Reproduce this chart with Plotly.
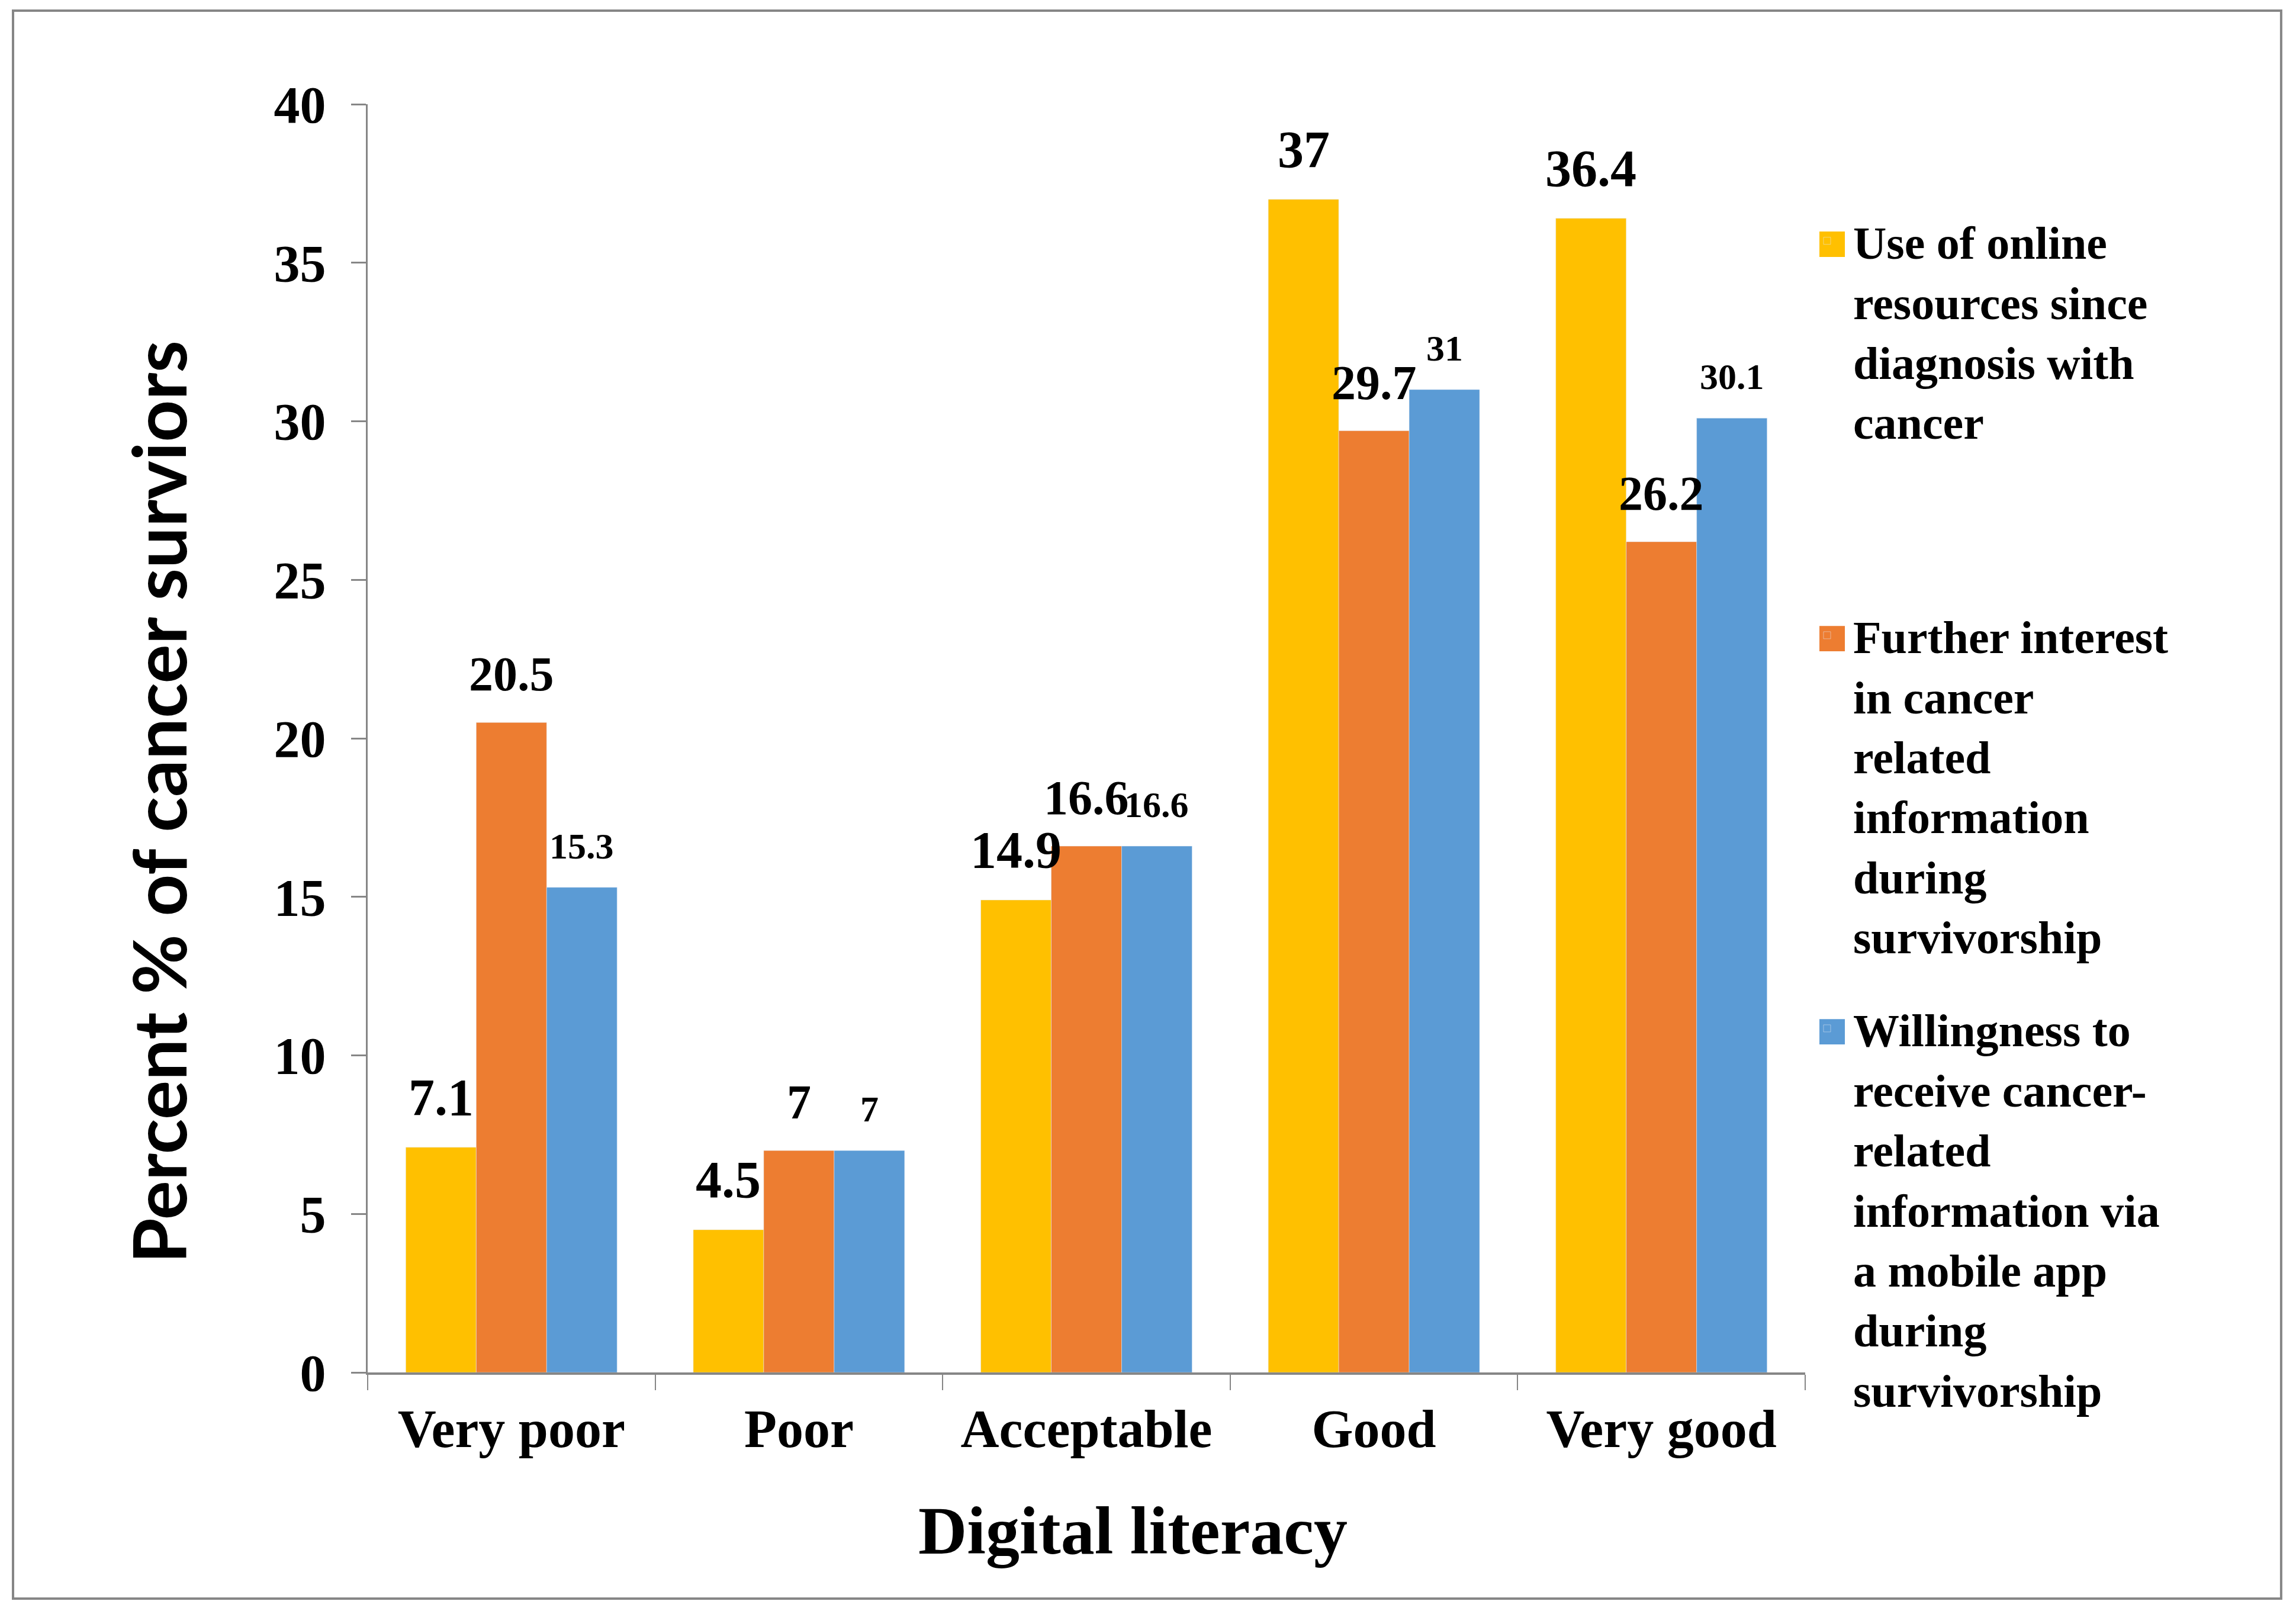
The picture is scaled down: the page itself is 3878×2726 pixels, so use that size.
import plotly.graph_objects as go

# Digital literacy levels on the x axis
categories = ["Very poor", "Poor", "Acceptable", "Good", "Very good"]

# Percent % of cancer survivors per series
online_use = [7.1, 4.5, 14.9, 37, 36.4]
further_interest = [20.5, 7, 16.6, 29.7, 26.2]
app_willingness = [15.3, 7, 16.6, 31, 30.1]

series_names = [
    "Use of online<br>resources since<br>diagnosis with<br>cancer",
    "Further interest<br>in cancer<br>related<br>information<br>during<br>survivorship",
    "Willingness to<br>receive cancer-<br>related<br>information via<br>a mobile app<br>during<br>survivorship",
]

y_ticks = [0, 5, 10, 15, 20, 25, 30, 35, 40]

SERIF = "Liberation Serif, Times New Roman, serif"
GRAY = "#868686"
BARGAP = 0.265

series = [
    (online_use, "#FFC000", 88, "legend", 0.919),
    (further_interest, "#ED7D31", 82, "legend2", 0.608),
    (app_willingness, "#5B9BD5", 62, "legend3", 0.298),
]

fig = go.Figure()
for (vals, color, fsize, leg, ly), name in zip(series, series_names):
    fig.add_trace(go.Bar(
        x=categories,
        y=vals,
        name=name,
        marker_color=color,
        legend=leg,
        showlegend=True,
    ))

# value labels on top of everything (bars of the next series must not hide them)
bar_w = (1 - BARGAP) / len(series)
for i, (vals, color, fsize, leg, ly) in enumerate(series):
    off = (i - (len(series) - 1) / 2) * bar_w
    for j, v in enumerate(vals):
        fig.add_annotation(
            x=j + off, y=v, xref="x", yref="y",
            text=f"{v:g}", showarrow=False,
            xanchor="center", yanchor="bottom", yshift=34,
            font=dict(family=SERIF, size=fsize, color="black", weight="bold"),
        )

legend_common = dict(
    font=dict(family=SERIF, size=78, color="black", weight="bold"),
    xanchor="left",
    yanchor="top",
    x=0.9971,
    valign="top",
    itemwidth=78,
    bgcolor="rgba(0,0,0,0)",
    itemclick=False,
    itemdoubleclick=False,
)

fig.update_layout(
    width=3878,
    height=2726,
    paper_bgcolor="white",
    plot_bgcolor="white",
    barmode="group",
    bargap=BARGAP,
    bargroupgap=0,
    showlegend=True,
    margin=dict(l=613, r=837, t=168, b=416, autoexpand=False),
    xaxis=dict(
        showline=True,
        linecolor=GRAY,
        linewidth=4,
        ticks="outside",
        tickson="boundaries",
        ticklen=26,
        tickwidth=2,
        tickcolor=GRAY,
        showgrid=False,
        ticklabelstandoff=14,
        tickfont=dict(family=SERIF, size=90, color="black", weight="bold"),
    ),
    yaxis=dict(
        range=[0, 40],
        tickvals=y_ticks,
        showline=True,
        linecolor=GRAY,
        linewidth=3,
        ticks="outside",
        ticklen=25,
        tickwidth=3,
        tickcolor=GRAY,
        showgrid=False,
        zeroline=False,
        ticklabelstandoff=25,
        tickfont=dict(family=SERIF, size=88, color="black", weight="bold"),
    ),
)
for (vals, color, fsize, leg, ly) in series:
    fig.update_layout({leg: dict(legend_common, y=ly)})
    # bigger legend key square, Excel style
    yc = ly - 0.0294
    fig.add_shape(
        type="rect", xref="paper", yref="paper",
        x0=1.0099, x1=1.0276, y0=yc - 0.0100, y1=yc + 0.0100,
        fillcolor=color, line_width=0,
    )

# axis titles
fig.add_annotation(
    text="Digital literacy", xref="paper", yref="paper",
    x=0.5325, y=-0.1247, xanchor="center", yanchor="middle", showarrow=False,
    font=dict(family=SERIF, size=114, color="black", weight="bold"),
)
fig.add_annotation(
    text="Percent % of cancer surviors", xref="paper", yref="paper",
    x=-0.1458, y=0.450, xanchor="center", yanchor="middle", showarrow=False,
    textangle=-90,
    font=dict(family="Lato, sans-serif", size=124, color="black", weight="bold"),
)

# outer frame around the whole chart
fig.add_shape(
    type="rect", xref="paper", yref="paper",
    x0=-0.2467, x1=1.3311, y0=-0.1783, y1=1.0738,
    line=dict(color=GRAY, width=4),
)

fig.write_html("out.html")
